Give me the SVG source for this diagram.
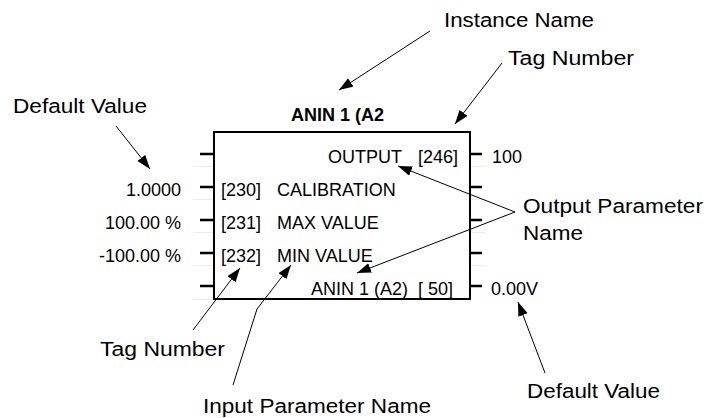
<svg xmlns="http://www.w3.org/2000/svg" width="717" height="418" viewBox="0 0 717 418">
<style>
.t{font-family:"Liberation Sans",Arial,sans-serif;font-size:18px;fill:#000}
.b{font-family:"Liberation Sans",Arial,sans-serif;font-size:18px;font-weight:bold;fill:#000}
.l{font-family:"Liberation Sans",Arial,sans-serif;font-size:20px;fill:#000}
.e{text-anchor:end}
.tick{stroke:#000;stroke-width:2.5}
.faint{stroke:#ebebeb;stroke-width:1}
.ar{stroke:#000;stroke-width:1;fill:none;marker-end:url(#ah)}
</style>
<defs>
<marker id="ah" markerUnits="userSpaceOnUse" markerWidth="15" markerHeight="11" refX="14" refY="5" orient="auto">
<path d="M0,0 L14,5 L0,10 z" fill="#000"/>
</marker>
</defs>
<rect width="717" height="418" fill="#fff"/>

<g id="block">
<g id="grid">
<line class="faint" x1="193" y1="166.5" x2="213" y2="166.5"/>
<line class="faint" x1="193" y1="199.5" x2="213" y2="199.5"/>
<line class="faint" x1="193" y1="232.5" x2="213" y2="232.5"/>
<line class="faint" x1="193" y1="265.5" x2="213" y2="265.5"/>
<line class="faint" x1="193" y1="299.5" x2="213" y2="299.5"/>
<line class="faint" x1="471" y1="166.5" x2="486" y2="166.5"/>
<line class="faint" x1="471" y1="199.5" x2="486" y2="199.5"/>
<line class="faint" x1="471" y1="232.5" x2="486" y2="232.5"/>
<line class="faint" x1="471" y1="265.5" x2="486" y2="265.5"/>
</g>
<rect x="214" y="132" width="256" height="167" fill="none" stroke="#000" stroke-width="2"/>
<line class="tick" x1="200" y1="154" x2="213" y2="154"/>
<line class="tick" x1="200" y1="187" x2="213" y2="187"/>
<line class="tick" x1="200" y1="220" x2="213" y2="220"/>
<line class="tick" x1="200" y1="253" x2="213" y2="253"/>
<line class="tick" x1="200" y1="286" x2="213" y2="286"/>
<line class="tick" x1="471" y1="154" x2="482" y2="154"/>
<line class="tick" x1="471" y1="187" x2="482" y2="187"/>
<line class="tick" x1="471" y1="220" x2="482" y2="220"/>
<line class="tick" x1="471" y1="253" x2="482" y2="253"/>
<line class="tick" x1="471" y1="286" x2="482" y2="286"/>
<text class="b" x="291" y="121">ANIN 1 (A2</text>
<text class="t e" x="402" y="163">OUTPUT</text>
<text class="t" x="418" y="163">[246]</text>
<text class="t" x="221" y="196">[230]</text>
<text class="t" x="277" y="196">CALIBRATION</text>
<text class="t" x="221" y="229">[231]</text>
<text class="t" x="277" y="229">MAX VALUE</text>
<text class="t" x="221" y="262">[232]</text>
<text class="t" x="277" y="262">MIN VALUE</text>
<text class="t e" x="408" y="295">ANIN 1 (A2)</text>
<text class="t" x="418" y="295" xml:space="preserve">[ 50]</text>
</g>

<g id="values">
<text class="t e" x="181" y="196">1.0000</text>
<text class="t e" x="181" y="229">100.00 %</text>
<text class="t e" x="181" y="262">-100.00 %</text>
<text class="t" x="492" y="163">100</text>
<text class="t" x="491" y="295">0.00V</text>
</g>

<g id="labels">
<text class="l" x="444" y="27" textLength="150" lengthAdjust="spacingAndGlyphs">Instance Name</text>
<text class="l" x="508" y="65" textLength="126" lengthAdjust="spacingAndGlyphs">Tag Number</text>
<text class="l" x="13" y="113" textLength="134" lengthAdjust="spacingAndGlyphs">Default Value</text>
<text class="l" x="523" y="213" textLength="180" lengthAdjust="spacingAndGlyphs">Output Parameter</text>
<text class="l" x="523" y="240" textLength="60" lengthAdjust="spacingAndGlyphs">Name</text>
<text class="l" x="100" y="356" textLength="125" lengthAdjust="spacingAndGlyphs">Tag Number</text>
<text class="l" x="203" y="413" textLength="228" lengthAdjust="spacingAndGlyphs">Input Parameter Name</text>
<text class="l" x="527" y="398" textLength="133" lengthAdjust="spacingAndGlyphs">Default Value</text>
</g>

<g id="connectors">
<line class="ar" x1="430" y1="31" x2="339" y2="90"/>
<line class="ar" x1="502" y1="63" x2="455" y2="124"/>
<line class="ar" x1="116" y1="126" x2="150" y2="169"/>
<line class="ar" x1="515" y1="212" x2="398" y2="166"/>
<line class="ar" x1="515" y1="212" x2="357" y2="273"/>
<line class="ar" x1="193" y1="330" x2="240" y2="268"/>
<polyline class="ar" points="233,385 257,309 291,265"/>
<line class="ar" x1="545" y1="373" x2="518" y2="302"/>
</g>
</svg>
